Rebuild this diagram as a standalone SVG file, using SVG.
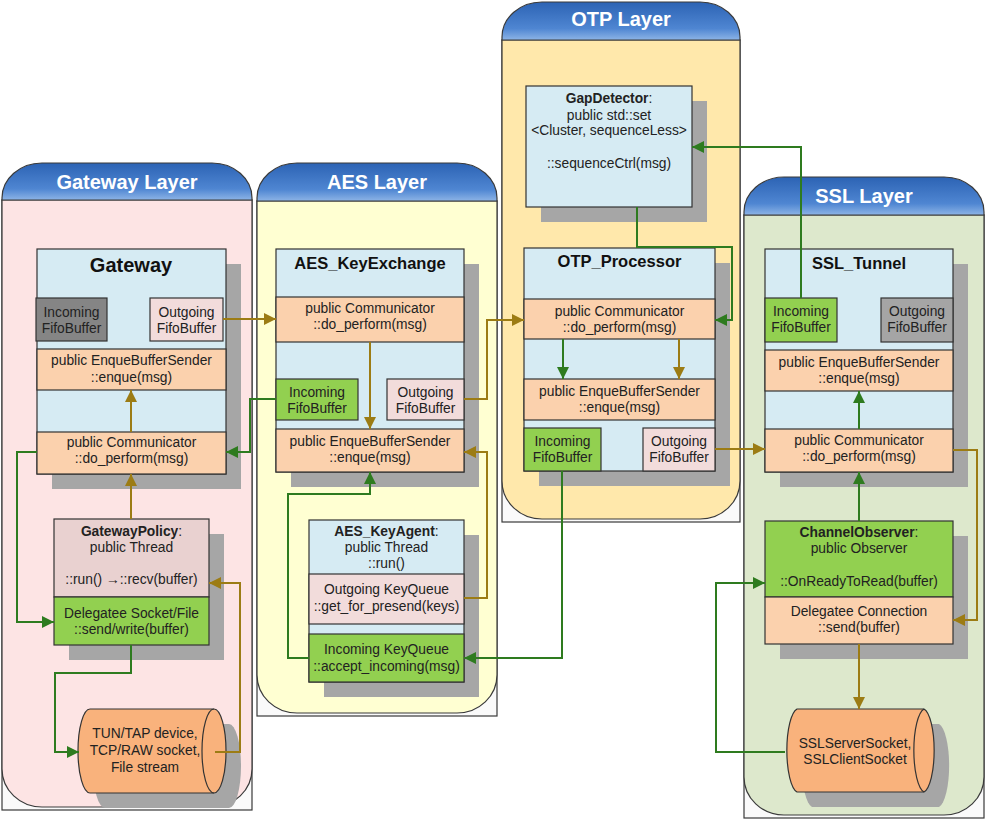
<svg xmlns="http://www.w3.org/2000/svg" width="986" height="820" viewBox="0 0 986 820">
<defs>
<linearGradient id="hdr" x1="0" y1="0" x2="0" y2="1">
<stop offset="0" stop-color="#2c63b4"/>
<stop offset="0.7" stop-color="#4f86d2"/>
<stop offset="1" stop-color="#8db4e6"/>
</linearGradient>
<marker id="ag" markerUnits="userSpaceOnUse" markerWidth="12" markerHeight="12" refX="12" refY="6" orient="auto"><path d="M0,0 L12,6 L0,12 z" fill="#2e7b1f"/></marker>
<marker id="ao" markerUnits="userSpaceOnUse" markerWidth="12" markerHeight="12" refX="12" refY="6" orient="auto"><path d="M0,0 L12,6 L0,12 z" fill="#9c7c14"/></marker>
<style>
.frame{fill:#fafafa;stroke:#3a3a3a;stroke-width:1.2}
.hd{fill:url(#hdr);stroke:#3a3a3a;stroke-width:1.2}
.ht{font-family:"Liberation Sans",Arial,sans-serif;font-size:20px;font-weight:bold;fill:#fff;text-anchor:middle}
.t{font-family:"Liberation Sans",Arial,sans-serif;font-size:13.8px;fill:#222;text-anchor:middle}
.tt{font-family:"Liberation Sans",Arial,sans-serif;font-size:16.5px;font-weight:bold;fill:#111;text-anchor:middle}
.b{font-weight:bold}
.sh{fill:#a6a6a6}
.blue{fill:#d6ebf3;stroke:#333;stroke-width:1.2}
.peach{fill:#fbd1ad;stroke:#333;stroke-width:1.2}
.pink{fill:#f2dcdb;stroke:#333;stroke-width:1.2}
.rose{fill:#e9d1d0;stroke:#333;stroke-width:1.2}
.green{fill:#92d050;stroke:#333;stroke-width:1.2}
.gray{fill:#858585;stroke:#333;stroke-width:1.2}
.lgray{fill:#a5a5a5;stroke:#333;stroke-width:1.2}
.cyl{fill:#f9b27c;stroke:#333;stroke-width:1.2}
.g{fill:none;stroke:#2e7b1f;stroke-width:2;marker-end:url(#ag)}
.o{fill:none;stroke:#9c7c14;stroke-width:2;marker-end:url(#ao)}
</style>
</defs>
<rect width="986" height="820" fill="#ffffff"/>

<g id="layer-gateway">
<rect class="frame" x="2" y="200" width="250" height="610"/>
<path d="M2,200 V769 A40,38 0 0 0 42,807 H212 A40,38 0 0 0 252,769 V200 Z" fill="#fde4e4" stroke="#3a3a3a" stroke-width="1.2"/>
<path class="hd" d="M2,200 V198 A40,35 0 0 1 42,163 H212 A40,35 0 0 1 252,198 V200 Z"/>
<text class="ht" x="127" y="189">Gateway Layer</text>
</g>
<g id="layer-aes">
<rect class="frame" x="257" y="201" width="240" height="515"/>
<path d="M257,201 V675 A40,38 0 0 0 297,713 H457 A40,38 0 0 0 497,675 V201 Z" fill="#ffffd2" stroke="#3a3a3a" stroke-width="1.2"/>
<path class="hd" d="M257,201 V198 A40,35 0 0 1 297,163 H457 A40,35 0 0 1 497,198 V201 Z"/>
<text class="ht" x="377" y="189">AES Layer</text>
</g>
<g id="layer-otp">
<rect class="frame" x="502" y="40" width="238" height="482"/>
<path d="M502,40 V481 A40,38 0 0 0 542,519 H700 A40,38 0 0 0 740,481 V40 Z" fill="#ffe8ab" stroke="#3a3a3a" stroke-width="1.2"/>
<path class="hd" d="M502,40 V37 A40,35 0 0 1 542,2 H700 A40,35 0 0 1 740,37 V40 Z"/>
<text class="ht" x="621" y="26">OTP Layer</text>
</g>
<g id="layer-ssl">
<rect class="frame" x="744" y="215" width="240" height="603"/>
<path d="M744,215 V777 A40,38 0 0 0 784,815 H944 A40,38 0 0 0 984,777 V215 Z" fill="#dde8cc" stroke="#3a3a3a" stroke-width="1.2"/>
<path class="hd" d="M744,215 V212 A40,35 0 0 1 784,177 H944 A40,35 0 0 1 984,212 V215 Z"/>
<text class="ht" x="864" y="203">SSL Layer</text>
</g>

<g id="gateway">
<rect class="sh" x="52" y="264" width="189" height="225"/>
<rect class="blue" x="37" y="249" width="189" height="225"/>
<text class="tt" x="131" y="272" style="font-size:20px">Gateway</text>
<rect class="gray" x="36" y="298" width="71" height="43"/>
<text class="t" x="71.5" y="317">Incoming</text><text class="t" x="71.5" y="333">FifoBuffer</text>
<rect class="pink" x="150" y="298" width="73" height="43"/>
<text class="t" x="186.5" y="317">Outgoing</text><text class="t" x="186.5" y="333">FifoBuffer</text>
<rect class="peach" x="37" y="349" width="189" height="41"/>
<text class="t" x="131.5" y="365">public EnqueBufferSender</text><text class="t" x="131.5" y="382">::enque(msg)</text>
<rect class="peach" x="37" y="432" width="189" height="42"/>
<text class="t" x="131.5" y="447">public Communicator</text><text class="t" x="131.5" y="463">::do_perform(msg)</text>
</g>

<g id="gatewaypolicy">
<rect class="sh" x="69" y="534" width="155" height="126"/>
<rect class="rose" x="54" y="519" width="155" height="78"/>
<text class="t" x="131.5" y="536"><tspan class="b">GatewayPolicy</tspan>:</text>
<text class="t" x="131.5" y="552">public Thread</text>
<text class="t" x="131.5" y="584">::run() →::recv(buffer)</text>
<rect class="green" x="54" y="597" width="155" height="48"/>
<text class="t" x="131.5" y="618">Delegatee Socket/File</text>
<text class="t" x="131.5" y="634">::send/write(buffer)</text>
</g>

<g id="tun-device">
<path class="sh" d="M105,724 H229 A12,42 0 0 1 229,808 H105 A12,42 0 0 1 105,724 Z"/>
<path class="cyl" d="M90,709 H214 A12,42 0 0 1 214,793 H90 A12,42 0 0 1 90,709 Z"/>
<path d="M214,709 A12,42 0 0 0 214,793" fill="none" stroke="#333" stroke-width="1.2"/>
<text class="t" x="145" y="738">TUN/TAP device,</text>
<text class="t" x="145" y="755">TCP/RAW socket,</text>
<text class="t" x="145" y="772">File stream</text>
</g>

<g id="aes-keyexchange">
<rect class="sh" x="291" y="264" width="188" height="223"/>
<rect class="blue" x="276" y="249" width="188" height="223"/>
<text class="tt" x="370" y="269">AES_KeyExchange</text>
<rect class="peach" x="276" y="297" width="188" height="45"/>
<text class="t" x="370" y="313">public Communicator</text><text class="t" x="370" y="329">::do_perform(msg)</text>
<rect class="green" x="276" y="379" width="82" height="41"/>
<text class="t" x="317" y="397">Incoming</text><text class="t" x="317" y="413">FifoBuffer</text>
<rect class="pink" x="387" y="379" width="77" height="41"/>
<text class="t" x="425.5" y="397">Outgoing</text><text class="t" x="425.5" y="413">FifoBuffer</text>
<rect class="peach" x="276" y="429" width="188" height="43"/>
<text class="t" x="370" y="446">public EnqueBufferSender</text><text class="t" x="370" y="462">::enque(msg)</text>
</g>

<g id="aes-keyagent">
<rect class="sh" x="324" y="535" width="155" height="162"/>
<rect class="blue" x="309" y="520" width="155" height="162"/>
<text class="t" x="386.5" y="536"><tspan class="b">AES_KeyAgent</tspan>:</text>
<text class="t" x="386.5" y="552">public Thread</text>
<text class="t" x="386.5" y="568">::run()</text>
<rect class="pink" x="309" y="574" width="155" height="50"/>
<text class="t" x="386.5" y="594">Outgoing KeyQueue</text>
<text class="t" x="386.5" y="611">::get_for_presend(keys)</text>
<rect class="green" x="309" y="634" width="155" height="48"/>
<text class="t" x="386.5" y="654">Incoming KeyQueue</text>
<text class="t" x="386.5" y="671">::accept_incoming(msg)</text>
</g>

<g id="gapdetector">
<rect class="sh" x="541" y="101" width="166" height="121"/>
<rect class="blue" x="526" y="86" width="166" height="121"/>
<text class="t" x="609" y="103"><tspan class="b">GapDetector</tspan>:</text>
<text class="t" x="609" y="120">public std::set</text>
<text class="t" x="609" y="135">&lt;Cluster, sequenceLess&gt;</text>
<text class="t" x="609" y="168">::sequenceCtrl(msg)</text>
</g>

<g id="otp-processor">
<rect class="sh" x="539" y="263" width="191" height="223"/>
<rect class="blue" x="524" y="248" width="191" height="223"/>
<text class="tt" x="619.5" y="267">OTP_Processor</text>
<rect class="peach" x="524" y="299" width="191" height="40"/>
<text class="t" x="619.5" y="316">public Communicator</text><text class="t" x="619.5" y="332">::do_perform(msg)</text>
<rect class="peach" x="524" y="379" width="191" height="41"/>
<text class="t" x="619.5" y="396">public EnqueBufferSender</text><text class="t" x="619.5" y="412">::enque(msg)</text>
<rect class="green" x="524" y="428" width="77" height="43"/>
<text class="t" x="562.5" y="446">Incoming</text><text class="t" x="562.5" y="462">FifoBuffer</text>
<rect class="pink" x="643" y="428" width="72" height="43"/>
<text class="t" x="679" y="446">Outgoing</text><text class="t" x="679" y="462">FifoBuffer</text>
</g>

<g id="ssl-tunnel">
<rect class="sh" x="780" y="264" width="188" height="223"/>
<rect class="blue" x="765" y="249" width="188" height="223"/>
<text class="tt" x="859" y="269">SSL_Tunnel</text>
<rect class="green" x="765" y="298" width="72" height="44"/>
<text class="t" x="801" y="316">Incoming</text><text class="t" x="801" y="332">FifoBuffer</text>
<rect class="lgray" x="881" y="298" width="72" height="44"/>
<text class="t" x="917" y="316">Outgoing</text><text class="t" x="917" y="332">FifoBuffer</text>
<rect class="peach" x="765" y="350" width="188" height="41"/>
<text class="t" x="859" y="367">public EnqueBufferSender</text><text class="t" x="859" y="383">::enque(msg)</text>
<rect class="peach" x="765" y="429" width="188" height="43"/>
<text class="t" x="859" y="445">public Communicator</text><text class="t" x="859" y="461">::do_perform(msg)</text>
</g>

<g id="channelobserver">
<rect class="sh" x="780" y="536" width="188" height="123"/>
<rect class="green" x="765" y="521" width="188" height="76"/>
<text class="t" x="859" y="537"><tspan class="b">ChannelObserver</tspan>:</text>
<text class="t" x="859" y="553">public Observer</text>
<text class="t" x="859" y="586">::OnReadyToRead(buffer)</text>
<rect class="peach" x="765" y="597" width="188" height="47"/>
<text class="t" x="859" y="616">Delegatee Connection</text>
<text class="t" x="859" y="632">::send(buffer)</text>
</g>

<g id="ssl-socket">
<path class="sh" d="M812,724 H939 A12,42 0 0 1 939,807 H812 A12,42 0 0 1 812,724 Z"/>
<path class="cyl" d="M797,709 H924 A12,42 0 0 1 924,792 H797 A12,42 0 0 1 797,709 Z"/>
<path d="M924,709 A12,42 0 0 0 924,792" fill="none" stroke="#333" stroke-width="1.2"/>
<text class="t" x="855" y="748">SSLServerSocket,</text>
<text class="t" x="855" y="764">SSLClientSocket</text>
</g>

<g id="connectors">
<path class="o" d="M223,319 H276"/>
<path class="o" d="M131,432 V390"/>
<path class="o" d="M131,519 V474"/>
<path class="o" d="M215,752 H240 V583 H209"/>
<path class="o" d="M370,342 V429"/>
<path class="o" d="M464,399 H487 V320 H524"/>
<path class="o" d="M464,598 H487 V452 H464"/>
<path class="o" d="M679,339 V379"/>
<path class="o" d="M715,449 H765"/>
<path class="o" d="M953,450 H977 V620 H953"/>
<path class="o" d="M859,644 V709"/>
<path class="g" d="M276,399 H250 V452 H226"/>
<path class="g" d="M37,452 H17 V622 H54"/>
<path class="g" d="M131,645 V673 H55 V752 H79"/>
<path class="g" d="M309,658 H288 V494 H370 V472"/>
<path class="g" d="M562,471 V658 H464"/>
<path class="g" d="M563,339 V379"/>
<path class="g" d="M637,207 V247 H732 V320 H715"/>
<path class="g" d="M801,298 V147 H692"/>
<path class="g" d="M859,429 V391"/>
<path class="g" d="M859,521 V472"/>
<path class="g" d="M785,752 H716 V583 H765"/>
</g>
</svg>
